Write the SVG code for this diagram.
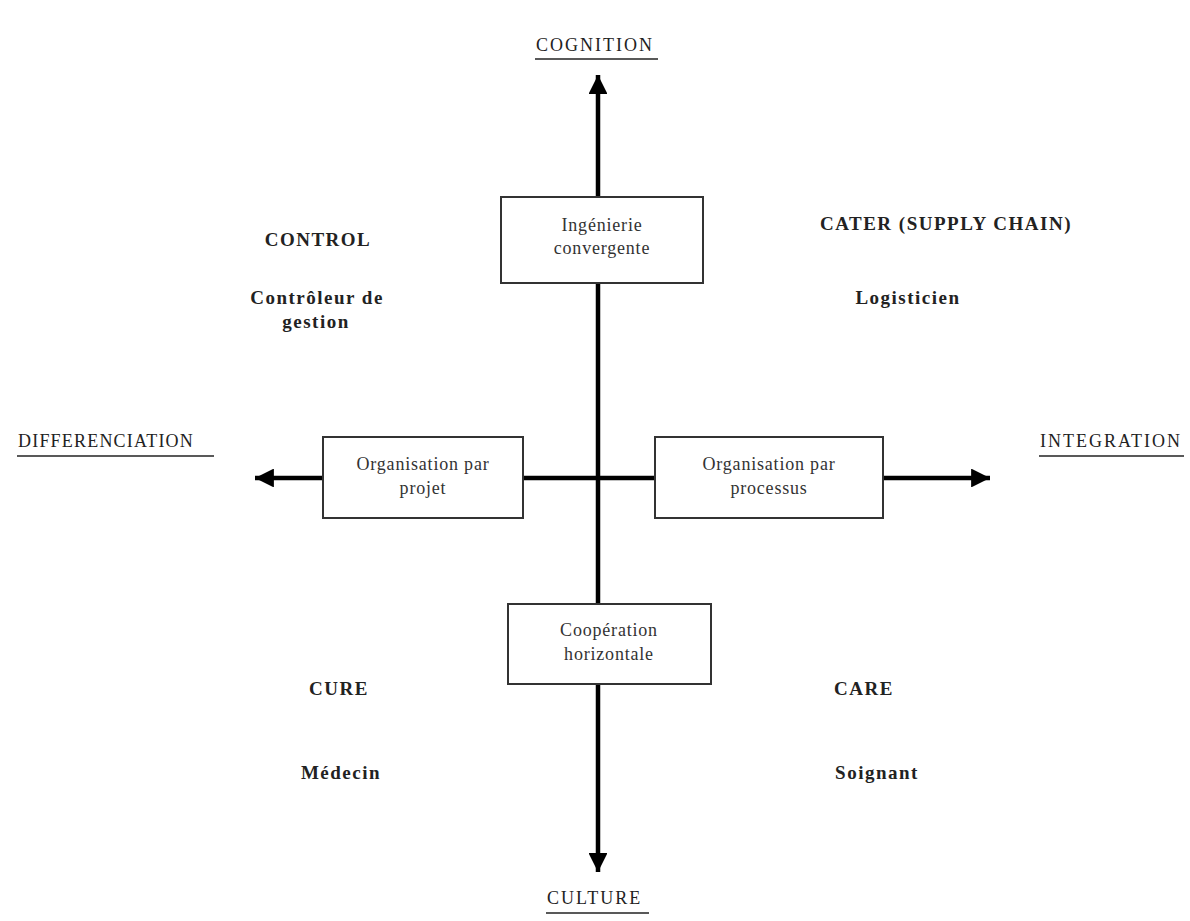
<svg xmlns="http://www.w3.org/2000/svg" width="1190" height="921" viewBox="0 0 1190 921">
<style>
.box{fill:#fff;stroke:#333;stroke-width:2}
.t{font-family:"Liberation Serif","Times New Roman",serif;font-size:18px;fill:#333;text-anchor:middle;letter-spacing:0.8px}
.ax{font-family:"Liberation Serif","Times New Roman",serif;font-size:18px;fill:#222;letter-spacing:2px}
.b{font-family:"Liberation Serif","Times New Roman",serif;font-size:19px;font-weight:bold;fill:#222;text-anchor:middle;letter-spacing:1.5px}
.ul{stroke:#222;stroke-width:1.6}
.c{stroke:#000;stroke-width:4.5;fill:none}
</style>
<defs>
<marker id="ah" viewBox="0 0 10 10" refX="10" refY="5" markerWidth="4.2" markerHeight="4.2" orient="auto" markerUnits="strokeWidth">
<path d="M0,0 L10,5 L0,10 Z" fill="#000"/>
</marker>
</defs>
<rect width="1190" height="921" fill="#fff"/>
<g id="connectors">
<line class="c" x1="598" y1="478" x2="598" y2="75" marker-end="url(#ah)"/>
<line class="c" x1="598" y1="478" x2="598" y2="872" marker-end="url(#ah)"/>
<line class="c" x1="598" y1="478" x2="255" y2="478" marker-end="url(#ah)"/>
<line class="c" x1="598" y1="478" x2="990" y2="478" marker-end="url(#ah)"/>
</g>
<g id="axis-cognition">
<text class="ax" x="536" y="51">COGNITION</text>
<line class="ul" x1="535" y1="59" x2="658" y2="59"/>
</g>
<g id="axis-culture">
<text class="ax" x="547" y="904">CULTURE</text>
<line class="ul" x1="546" y1="913" x2="649" y2="913"/>
</g>
<g id="axis-differenciation">
<text class="ax" x="18" y="447" style="letter-spacing:1.2px">DIFFERENCIATION</text>
<line class="ul" x1="17" y1="456" x2="214" y2="456"/>
</g>
<g id="axis-integration">
<text class="ax" x="1040" y="447">INTEGRATION</text>
<line class="ul" x1="1039" y1="456" x2="1184" y2="456"/>
</g>
<g id="node-ingenierie">
<rect class="box" x="501" y="197" width="202" height="86"/>
<text class="t" x="602" y="231">Ingénierie</text>
<text class="t" x="602" y="254">convergente</text>
</g>
<g id="node-projet">
<rect class="box" x="323" y="437" width="200" height="81"/>
<text class="t" x="423" y="470">Organisation par</text>
<text class="t" x="423" y="494">projet</text>
</g>
<g id="node-processus">
<rect class="box" x="655" y="437" width="228" height="81"/>
<text class="t" x="769" y="470">Organisation par</text>
<text class="t" x="769" y="494">processus</text>
</g>
<g id="node-cooperation">
<rect class="box" x="508" y="604" width="203" height="80"/>
<text class="t" x="609" y="636">Coopération</text>
<text class="t" x="609" y="660">horizontale</text>
</g>
<g id="q-control">
<text class="b" x="318" y="246">CONTROL</text>
<text class="b" x="317" y="304">Contrôleur de</text>
<text class="b" x="316" y="328">gestion</text>
</g>
<g id="q-cater">
<text class="b" x="946" y="230">CATER (SUPPLY CHAIN)</text>
<text class="b" x="908" y="304">Logisticien</text>
</g>
<g id="q-cure">
<text class="b" x="339" y="695">CURE</text>
<text class="b" x="341" y="779">Médecin</text>
</g>
<g id="q-care">
<text class="b" x="864" y="695">CARE</text>
<text class="b" x="877" y="779">Soignant</text>
</g>
</svg>
